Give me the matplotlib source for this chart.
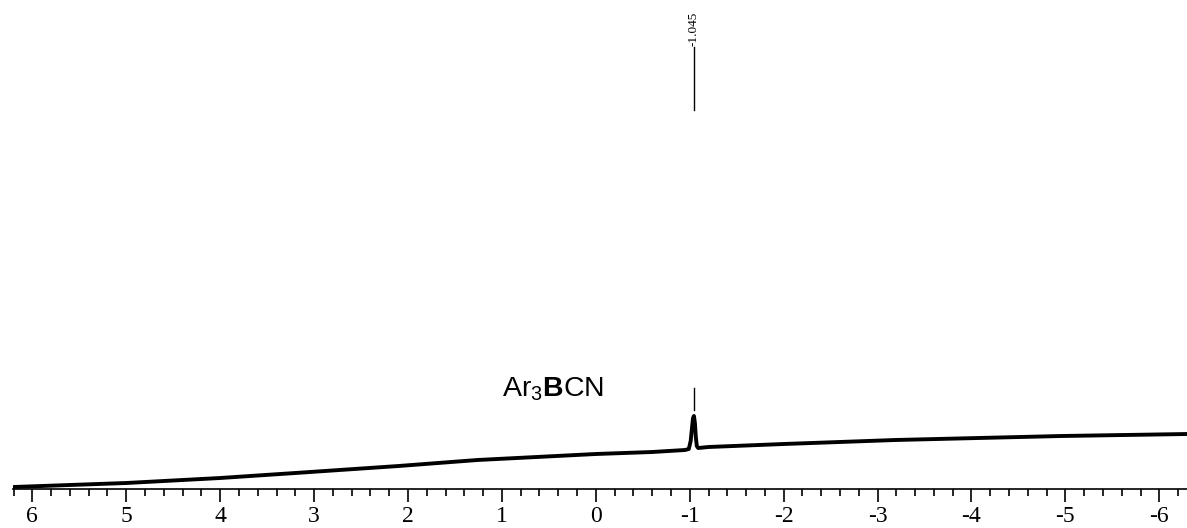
from matplotlib import pyplot as plt
from matplotlib.ticker import MultipleLocator, FormatStrFormatter

plt.rcParams['axes.unicode_minus'] = False
plt.rcParams['mathtext.fontset'] = 'custom'
plt.rcParams['mathtext.rm'] = 'Liberation Sans'
plt.rcParams['mathtext.bf'] = 'Liberation Sans:bold'

# spectrum trace (ppm, intensity)
shift_ppm = [6.2, 5.0, 4.0, 3.2, 2.1, 1.26, 0.0, -0.6, -0.95, -0.99, -1.01, -1.025,
             -1.035, -1.045, -1.055, -1.065, -1.075, -1.09, -1.2, -2.0, -3.19,
             -4.96, -6.3]
intensity = [2, 6, 11, 16, 23, 29, 35, 37, 39, 40, 48, 62,
             71, 73, 66, 52, 43, 41, 42, 45, 49,
             53, 55]

peak_ppm = -1.045
peak_label = '-1.045'
compound = r'Ar$_3$$\mathbf{B}$CN'
xticks = [6, 5, 4, 3, 2, 1, 0, -1, -2, -3, -4, -5, -6]


def plot_spectrum():
    fig = plt.figure(figsize=(11.87, 5.28), dpi=100)
    ax = fig.add_axes([13 / 1187, 39 / 528, 1 - 13 / 1187, 489 / 528])

    ax.plot(shift_ppm, intensity, color='black', linewidth=2.8)

    # peak pick label at the top
    ax.plot([peak_ppm, peak_ppm], [379, 442], color='black', linewidth=1)
    ax.text(peak_ppm, 443, peak_label, rotation=90, ha='center', va='bottom',
            family='Liberation Serif', fontsize=9.5)

    # compound annotation
    ax.plot([peak_ppm, peak_ppm], [79, 101], color='black', linewidth=1)
    ax.text(0.994, 93, compound, ha='left', va='baseline',
            family='Liberation Sans', fontsize=20.5)

    ax.set_xlim(6.206, -6.295)
    ax.set_ylim(0, 489)
    ax.set_xticks(xticks)
    ax.xaxis.set_major_formatter(FormatStrFormatter('%d'))
    ax.xaxis.set_minor_locator(MultipleLocator(0.2))
    ax.tick_params(axis='x', which='major', length=9, width=1.2, direction='out',
                   pad=3, labelsize=17)
    ax.tick_params(axis='x', which='minor', length=5, width=1.2, direction='out')
    for lab in ax.get_xticklabels():
        lab.set_family('Liberation Serif')
    ax.set_yticks([])
    for side in ['top', 'left', 'right']:
        ax.spines[side].set_visible(False)
    ax.spines['bottom'].set_linewidth(1.2)

    fig.savefig('out.png', dpi=100)


if __name__ == "__main__":
    plot_spectrum()
